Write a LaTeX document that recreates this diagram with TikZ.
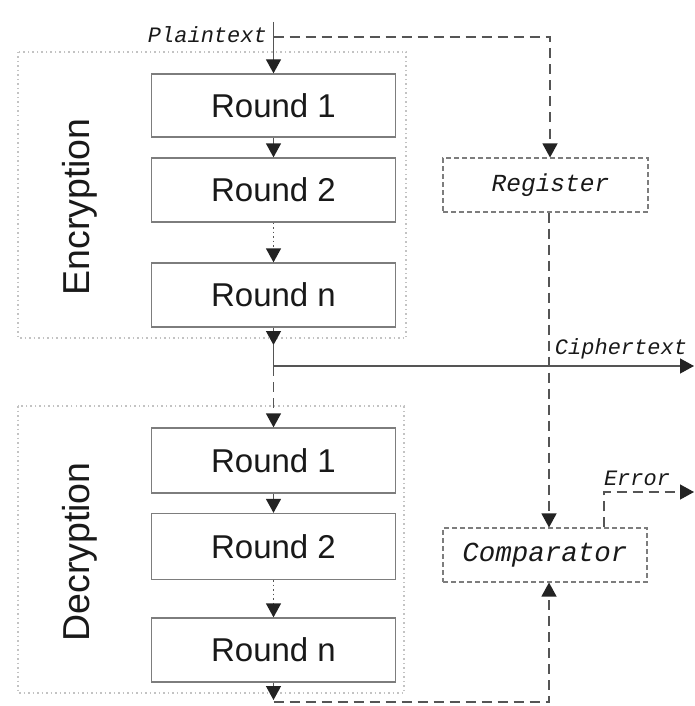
\documentclass[tikz,border=0pt]{standalone}
\usepackage{fontspec}
\setmainfont{Liberation Sans}
\setmonofont{Liberation Mono}
\usetikzlibrary{arrows.meta}
\definecolor{boxline}{RGB}{125,125,125}
\definecolor{wire}{RGB}{85,85,85}
\definecolor{tipcol}{RGB}{35,35,35}
\definecolor{groupline}{RGB}{195,195,195}
\definecolor{inktext}{RGB}{25,25,25}
\tikzset{
  roundbox/.style={draw=boxline, line width=1.3pt, fill=white, minimum width=244pt,
    inner sep=0pt, text=inktext, font=\fontsize{33}{36}\selectfont},
  unitbox/.style={draw=boxline, line width=1.1pt, dash pattern=on 5pt off 3pt,
    minimum width=205pt, minimum height=54pt, inner sep=0pt, text=inktext},
  groupbox/.style={draw=groupline, line width=1.2pt, dash pattern=on 1.5pt off 3pt},
  grouplabel/.style={rotate=90, text=inktext, font=\fontsize{37.5}{40}\selectfont},
  wirelabel/.style={text=inktext, font=\ttfamily\itshape\fontsize{22}{24}\selectfont, inner sep=0pt},
  wire/.style={draw=wire, line width=1.3pt},
  dwire/.style={wire, dash pattern=on 10pt off 6pt},
  ddots/.style={wire, line width=1.1pt, dash pattern=on 1.5pt off 3pt},
  tip/.style={-{Triangle[width=15pt,length=14pt,color=tipcol]}},
}
\begin{document}
\begin{tikzpicture}[x=1pt,y=-1pt]
\useasboundingbox (0,0) rectangle (694,706);

% grouping frames
\draw[groupbox] (18,52) rectangle (406,338);
\draw[groupbox] (18,406) rectangle (404,693);
\node[grouplabel] (enclabel) at (80,207) {Encryption};
\node[grouplabel] (declabel) at (80,552) {Decryption};

% encryption rounds
\node[roundbox, minimum height=63pt] (e1) at (273.5,105.5) {Round 1};
\node[roundbox, minimum height=64pt] (e2) at (273.5,190) {Round 2};
\node[roundbox, minimum height=64pt] (en) at (273.5,295) {Round n};

% decryption rounds
\node[roundbox, minimum height=65pt] (d1) at (273.5,460.5) {Round 1};
\node[roundbox, minimum height=66pt] (d2) at (273.5,546.5) {Round 2};
\node[roundbox, minimum height=64pt] (dn) at (273.5,650) {Round n};

% checking units
\node[unitbox, font=\ttfamily\itshape\fontsize{24.5}{26}\selectfont] (reg) at (545.5,185) {\hspace*{10pt}Register};
\node[unitbox, minimum width=204pt, font=\ttfamily\itshape\fontsize{27.5}{29}\selectfont] (cmp) at (545,555) {Comparator};

% free ends and corners
\coordinate (ptop) at (273.5,22);
\coordinate (pbranch) at (273.5,37);
\coordinate (pcorner) at (550,37);
\coordinate (etip) at (273.5,345);
\coordinate (csplit) at (273.5,366);
\coordinate (cout) at (694,366);
\coordinate (dtip) at (273.5,700);
\coordinate (fbl) at (273.5,702);
\coordinate (fbr) at (549,702);
\coordinate (ecorner) at (604,492);
\coordinate (eout) at (694,492);

% labels on the wires
\node[wirelabel, anchor=east] (plab) at (267,35) {Plaintext};
\node[wirelabel] (clab) at (621,349) {Ciphertext};
\node[wirelabel] (elab) at (637,478) {Error};

% plaintext in
\draw[wire, tip] (ptop) -- (e1.north);
\draw[dwire, tip] (pbranch) -- (pcorner) -- (reg.north -| pcorner);

% encryption chain
\draw[wire, tip] (e1) -- (e2);
\draw[ddots] (e2.south) -- (273.5,249);
\draw[wire, tip] (273.5,249) -- (en.north);
\draw[wire, tip] (en.south) -- (etip);
\draw[wire] (etip) -- (csplit);
\draw[wire, tip] (csplit) -- (cout);
\draw[dwire, tip] (csplit) -- (d1.north);

% decryption chain
\draw[wire, tip] (d1) -- (d2);
\draw[ddots] (d2.south) -- (273.5,604);
\draw[wire, tip] (273.5,604) -- (dn.north);
\draw[wire, tip] (dn.south) -- (dtip);
\draw[dwire, tip] (fbl) -- (fbr) -- (cmp.south -| fbr);

% register to comparator
\draw[dwire, tip] (reg.south -| fbr) -- (cmp.north -| fbr);

% error flag
\draw[dwire, tip] (cmp.north -| ecorner) -- (ecorner) -- (eout);
\end{tikzpicture}
\end{document}
